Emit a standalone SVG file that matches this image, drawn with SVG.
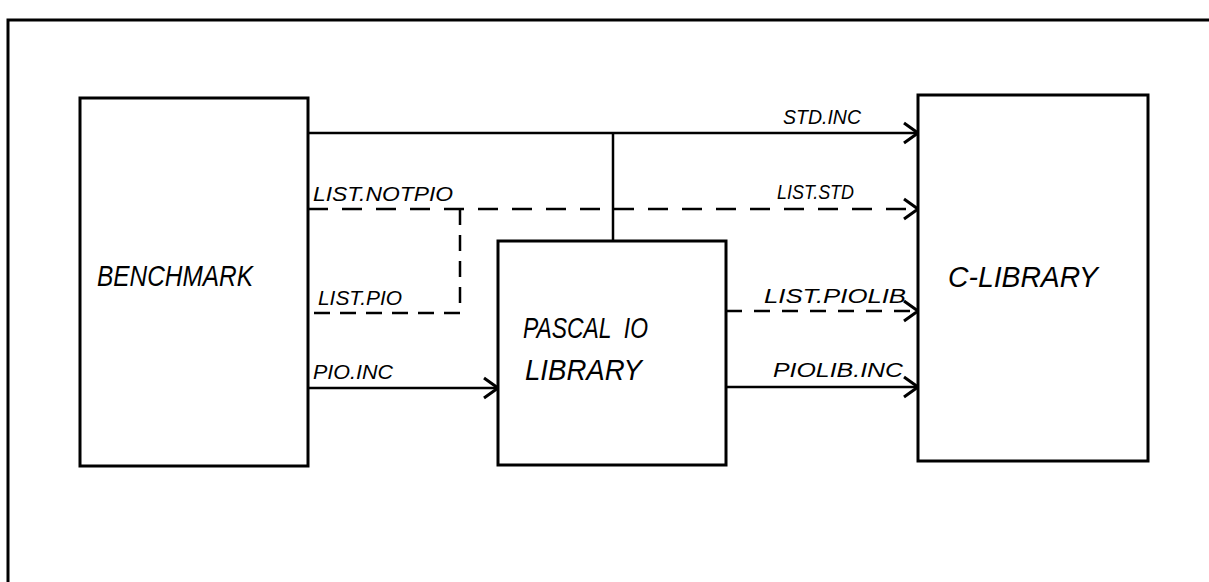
<svg xmlns="http://www.w3.org/2000/svg" width="1209" height="582" viewBox="0 0 1209 582">
<style>
.box{fill:#fff;stroke:#000;stroke-width:3}
.ln{fill:none;stroke:#000;stroke-width:2.5}
.ds{fill:none;stroke:#000;stroke-width:2.5;stroke-dasharray:20 14}
.big{font-family:"Liberation Sans",Arial,sans-serif;font-style:italic;font-size:30px;fill:#000}
.lbl{font-family:"Liberation Sans",Arial,sans-serif;font-style:italic;font-size:20px;fill:#000}
</style>
<defs>
<marker id="arr" markerUnits="userSpaceOnUse" markerWidth="20" markerHeight="24" refX="16" refY="12" orient="auto" overflow="visible">
<path d="M2,2 L16,12 L2,22" fill="none" stroke="#000" stroke-width="3" stroke-linejoin="round"/>
</marker>
</defs>
<rect width="1209" height="582" fill="#fff"/>
<g id="frame">
<path d="M8,582 L8,20 L1209,20" fill="none" stroke="#000" stroke-width="3"/>
</g>
<g id="connectors">
<line class="ln" x1="308" y1="133" x2="918" y2="133" marker-end="url(#arr)"/>
<line class="ln" x1="613" y1="133" x2="613" y2="241"/>
<line class="ds" x1="308" y1="209" x2="918" y2="209" marker-end="url(#arr)"/>
<path class="ds" d="M460,209 L460,313 L308,313" style="stroke-dasharray:16 10"/>
<line class="ln" x1="308" y1="388" x2="498" y2="388" marker-end="url(#arr)"/>
<line class="ds" x1="726" y1="311" x2="918" y2="311" style="stroke-dasharray:16 12" marker-end="url(#arr)"/>
<line class="ln" x1="726" y1="387" x2="918" y2="387" marker-end="url(#arr)"/>
</g>
<g id="labels">
<text class="lbl" x="783" y="124" textLength="78" lengthAdjust="spacingAndGlyphs">STD.INC</text>
<text class="lbl" x="777" y="199" textLength="77" lengthAdjust="spacingAndGlyphs">LIST.STD</text>
<text class="lbl" x="313" y="201" textLength="140" lengthAdjust="spacingAndGlyphs">LIST.NOTPIO</text>
<text class="lbl" x="318" y="305" textLength="84" lengthAdjust="spacingAndGlyphs">LIST.PIO</text>
<text class="lbl" x="313" y="379" textLength="80" lengthAdjust="spacingAndGlyphs">PIO.INC</text>
<text class="lbl" x="764" y="303" textLength="142" lengthAdjust="spacingAndGlyphs">LIST.PIOLIB</text>
<text class="lbl" x="773" y="377" textLength="130" lengthAdjust="spacingAndGlyphs">PIOLIB.INC</text>
</g>
<g id="benchmark">
<rect class="box" x="80" y="98" width="228" height="368"/>
<text class="big" x="97" y="286" textLength="156" lengthAdjust="spacingAndGlyphs">BENCHMARK</text>
</g>
<g id="pascal-io-library">
<rect class="box" x="498" y="241" width="228" height="224"/>
<text class="big" x="523" y="338" textLength="125" lengthAdjust="spacingAndGlyphs" xml:space="preserve">PASCAL  IO</text>
<text class="big" x="525" y="380" textLength="117" lengthAdjust="spacingAndGlyphs">LIBRARY</text>
</g>
<g id="c-library">
<rect class="box" x="918" y="95" width="230" height="366"/>
<text class="big" x="948" y="287" textLength="150" lengthAdjust="spacingAndGlyphs">C-LIBRARY</text>
</g>
</svg>
